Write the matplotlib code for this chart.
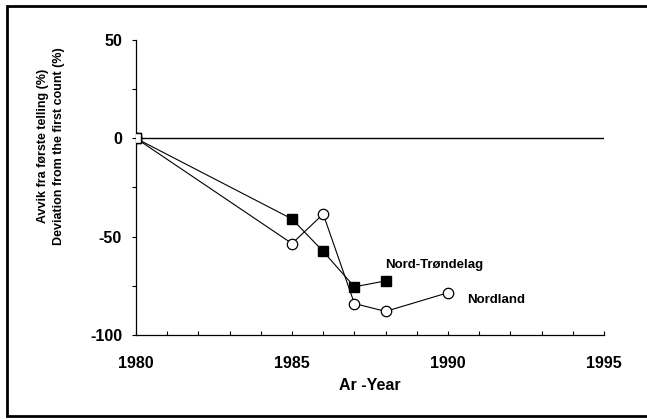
import matplotlib
matplotlib.use("Agg")
import matplotlib.pyplot as plt
from matplotlib.ticker import MultipleLocator
from matplotlib.lines import Line2D

# data
years_nt = [1980, 1985, 1986, 1987, 1988]
nord_trondelag = [0, -41, -57.5, -75.5, -72.5]

years_nl = [1980, 1985, 1986, 1987, 1988, 1990]
nordland = [0, -53.5, -38.5, -84, -88, -78.5]

plt.rcParams['font.family'] = ['Liberation Sans', 'DejaVu Sans']
plt.rcParams['font.weight'] = 'bold'
plt.rcParams['axes.unicode_minus'] = False

fig = plt.figure(figsize=(6.47, 4.19), dpi=100)
ax = fig.add_axes([136 / 647, 1 - 335 / 419, (604 - 136) / 647, (335 - 40) / 419])

ax.axhline(0, color='black', lw=1.0, zorder=1)

ax.plot(years_nt, nord_trondelag, color='black', lw=0.8, marker='s', ms=7,
        mfc='black', mec='black', zorder=3)
ax.plot(years_nl, nordland, color='black', lw=0.8, marker='o', ms=7.5,
        mfc='white', mec='black', mew=0.9, zorder=3)
# shared start point is drawn as an open square
ax.plot(years_nt[:1], nord_trondelag[:1], linestyle='none', marker='s', ms=7,
        mfc='white', mec='black', mew=1.0, zorder=4)

ax.text(1988.0, -64.5, 'Nord-Trøndelag', fontsize=9.5, fontweight='bold',
        ha='left', va='center')
ax.text(1990.6, -82, 'Nordland', fontsize=9.5, fontweight='bold',
        ha='left', va='center')

ax.set_xlim(1980, 1995)
ax.set_ylim(-100, 50)
ax.xaxis.set_major_locator(MultipleLocator(5))
ax.xaxis.set_minor_locator(MultipleLocator(1))
ax.yaxis.set_major_locator(MultipleLocator(50))
ax.yaxis.set_minor_locator(MultipleLocator(25))

for s in ['top', 'right']:
    ax.spines[s].set_visible(False)
for s in ['left', 'bottom']:
    ax.spines[s].set_linewidth(0.9)

ax.tick_params(axis='x', which='both', direction='in', length=3, width=0.8,
               pad=15, labelsize=11.5)
ax.tick_params(axis='y', which='both', direction='out', length=3, width=0.8,
               pad=7, labelsize=11.5)
for lab in ax.get_xticklabels() + ax.get_yticklabels():
    lab.set_fontweight('bold')

ax.set_xlabel('Ar -Year', fontsize=11.5, fontweight='bold', labelpad=5)

fig.text(51 / 647, 1 - 146 / 419,
         'Avvik fra første telling (%)\nDeviation from the first count (%)',
         rotation=90, ha='center', va='center', multialignment='center',
         fontsize=9, fontweight='bold', linespacing=1.4)

# frame round the picture: left, top and bottom only (right edge is cut off)
fx = [1.0, 6.5 / 647, 6.5 / 647, 1.0]
fy = [1 - 6.5 / 419, 1 - 6.5 / 419, 3 / 419, 3 / 419]
fig.lines.append(Line2D(fx, fy, transform=fig.transFigure, color='black',
                        lw=2.0, solid_joinstyle='miter'))

fig.savefig('out.png', dpi=100)
